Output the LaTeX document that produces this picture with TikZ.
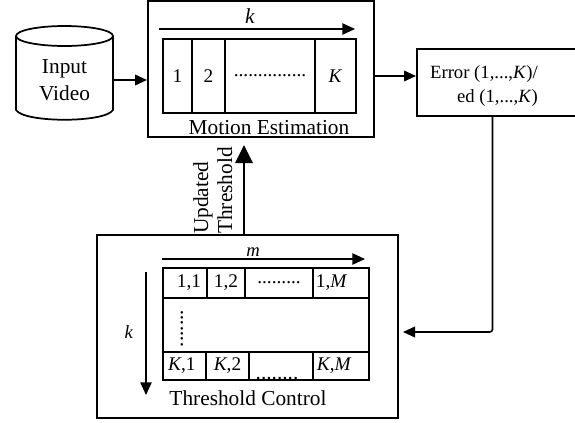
\documentclass[tikz,border=0pt]{standalone}
\usepackage{fontspec}
\setmainfont{Liberation Serif}
\usetikzlibrary{arrows.meta}
\tikzset{
  pic unit/.style={x=0.75pt,y=-0.75pt},
  cell/.style n args={2}{draw,line width=1.1pt,minimum width=#1*0.75pt,minimum height=#2*0.75pt,inner sep=0pt,font=\fontsize{14.5}{16}\selectfont},
  frame/.style n args={2}{draw,line width=1.5pt,minimum width=#1*0.75pt,minimum height=#2*0.75pt,inner sep=0pt},
  lbl/.style={inner sep=0pt,font=\fontsize{16}{18}\selectfont},
  small/.style={inner sep=0pt,font=\fontsize{14}{16}\selectfont},
  line/.style={line width=1.2pt},
  thin arrow/.style={line width=1pt,-{Triangle[length=9.5pt,width=8.5pt]}},
  big arrow/.style={line width=1.2pt,-{Triangle[length=13.5pt,width=13pt]}},
  mid arrow/.style={line width=1.2pt,-{Triangle[length=9pt,width=8pt]}},
}
\begin{document}
\begin{tikzpicture}[pic unit]
\clip (0,0) rectangle (575,422);
\fill[white] (0,0) rectangle (575,422);

% Input cylinder
\draw[line width=1.3pt] (16,36) -- (16,110) .. controls (24,123) and (105,123) .. (113,110) -- (113,36);
\draw[line width=1.3pt] (64.5,36) ellipse [x radius=48.5,y radius=10];
\node[minimum width=72.75pt,minimum height=55pt,inner sep=0pt,align=center,font=\fontsize{16}{20.5}\selectfont] (input) at (64.5,80) {Input\\Video};

% Motion Estimation
\node[frame={226}{136}] (motion) at (261,69) {};
\node[lbl] (mlabel) at (269,128) {Motion Estimation};
\node[lbl] (ktop) at (250,16) {\textit{k}};
\coordinate (kstart) at (159,29);
\coordinate (kend) at (355,29);
\draw[thin arrow] (kstart) -- (kend);
\node[cell={29}{74}] (c1) at (177.5,76) {\raisebox{-2.2pt}{1}};
\node[cell={33}{74}] (c2) at (208.5,76) {\raisebox{-2.2pt}{2}};
\node[cell={90}{74}] (c3) at (270,76) {\raisebox{-1pt}{...............}};
\node[cell={41}{74}] (c4) at (335.5,76) {\raisebox{-2.2pt}{\textit{K}}};

% Error / speed box
\node[frame={165}{67}] (err) at (499.5,82.5) {};
\node[small,anchor=base east] (e1) at (538,78) {Error (1,...,\textit{K})/};
\node[small,anchor=base east] (e2) at (538,102) {ed (1,...,\textit{K})};

% Threshold Control
\node[frame={301}{183}] (thresh) at (247.5,326.5) {};
\node[lbl] (tlabel) at (248,398) {Threshold Control};
\node[small] (mtop) at (253,252) {\textit{m}};
\coordinate (mstart) at (162,259);
\coordinate (mend) at (365,259);
\draw[thin arrow] (mstart) -- (mend);
\coordinate (kvstart) at (146,272);
\coordinate (kvend) at (146,395);
\draw[thin arrow] (kvstart) -- (kvend);
\node[small] (kleft) at (129,332) {\textit{k}};

\node[cell={206}{112}] (grid) at (266,324) {};
\node[cell={44}{30}] (a1) at (185,283) {\raisebox{-1.5pt}{\hspace{6pt}1,1}};
\node[cell={38}{30}] (a2) at (226,283) {\raisebox{-1.5pt}{1,2}};
\node[cell={68}{30}] (a3) at (279,283) {\raisebox{1pt}{.........}};
\node[cell={56}{30}] (a4) at (341,283) {\raisebox{-1.5pt}{\hspace{-14pt}1,\textit{M}}};
\node[cell={43}{28}] (b1) at (184.5,366) {\raisebox{2.5pt}{\hspace{-4pt}\textit{K},1}};
\node[cell={43}{28}] (b2) at (227.5,366) {\raisebox{2.5pt}{\textit{K},2}};
\node[cell={64}{28}] (b3) at (281,366) {};
\node[cell={56}{28}] (b4) at (341,366) {\hspace{-10pt}\textit{K},\textit{M}};
\node[lbl,anchor=south] (bdots) at (277,380) {........};
\node[lbl,rotate=90] (vdots) at (182,328.5) {.......};

% Rotated labels
\node[lbl,rotate=90,anchor=base west] (upd) at (208,234) {Updated};
\node[lbl,rotate=90,anchor=base west] (thr) at (232,234) {Threshold};

% Connectors
\draw[mid arrow] (input.east) -- (input.east -| motion.west);
\coordinate (m2e) at (390,76);
\draw[mid arrow] (m2e -| motion.east) -- (m2e -| err.west);
\coordinate (upx) at (244,190);
\draw[big arrow,shorten >=5.25pt] (upx |- thresh.north) -- (upx |- motion.south);
\coordinate (bend) at (492.5,332);
\draw[mid arrow,shorten >=3pt,rounded corners=2pt] (bend |- err.south) -- (bend) -- (bend -| thresh.east);
\end{tikzpicture}
\end{document}
